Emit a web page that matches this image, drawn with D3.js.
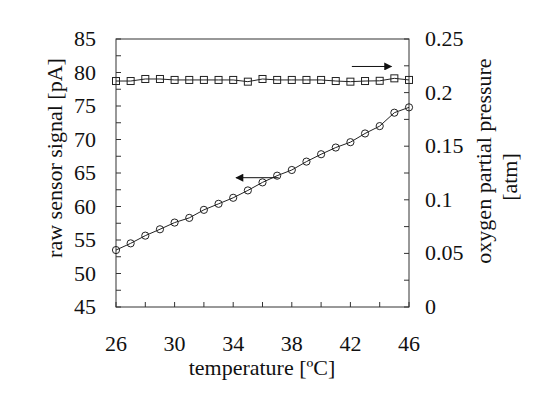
<!DOCTYPE html>
<html><head><meta charset="utf-8">
<script src="https://cdn.jsdelivr.net/npm/d3@7"></script>
<style>body{margin:0;background:#fff}</style>
</head><body>
<script>
const temperature = [26,27,28,29,30,31,32,33,34,35,36,37,38,39,40,41,42,43,44,45,46];
const signalPA = [53.5,54.5,55.65,56.6,57.6,58.3,59.5,60.4,61.3,62.4,63.6,64.6,65.45,66.7,67.8,68.8,69.6,70.9,72.0,74.0,74.8];
const oxygenAtm = [0.2108,0.2108,0.2127,0.2127,0.2118,0.2118,0.2118,0.2118,0.2118,0.2102,0.2127,0.2118,0.2118,0.2118,0.2118,0.2108,0.2102,0.2108,0.211,0.2133,0.2118];
const xTickLabels = [26,30,34,38,42,46];
const yLeftTickLabels = [45,50,55,60,65,70,75,80,85];
const yRightTickLabels = [0,0.05,0.1,0.15,0.2,0.25];

const W=546,H=395;
const m={l:116,r:409,t:39,b:307};
const FF='"Liberation Serif", "Times New Roman", serif';
const svg=d3.select("body").append("svg").attr("width",W).attr("height",H);
const x=d3.scaleLinear().domain([26,46]).range([m.l,m.r]);
const yL=d3.scaleLinear().domain([45,85]).range([m.b,m.t]);
const yR=d3.scaleLinear().domain([0,0.25]).range([m.b,m.t]);
const fs=22, stroke="#333", tc="#111";
function txt(sel){return sel.style("font-family",FF).attr("font-size",fs).attr("fill",tc);}

svg.append("rect").attr("x",m.l).attr("y",m.t).attr("width",m.r-m.l).attr("height",m.b-m.t)
  .attr("fill","none").attr("stroke",stroke).attr("stroke-width",1);

const tl=5;
d3.range(26,46.01,2).forEach(v=>{svg.append("line").attr("x1",x(v)).attr("x2",x(v)).attr("y1",m.b).attr("y2",m.b-tl).attr("stroke",stroke);});
d3.range(45,85.01,2.5).forEach(v=>{svg.append("line").attr("x1",m.l).attr("x2",m.l+tl).attr("y1",yL(v)).attr("y2",yL(v)).attr("stroke",stroke);});
d3.range(0,0.2501,0.025).forEach(v=>{svg.append("line").attr("x1",m.r).attr("x2",m.r-tl).attr("y1",yR(v)).attr("y2",yR(v)).attr("stroke",stroke);});

txt(svg.selectAll(".xl").data(xTickLabels).enter().append("text").attr("x",d=>x(d)).attr("y",351)
  .attr("text-anchor","middle")).text(d=>d);
txt(svg.selectAll(".yl").data(yLeftTickLabels).enter().append("text").attr("x",96).attr("y",d=>yL(d)+7)
  .attr("text-anchor","end")).text(d=>d);
txt(svg.selectAll(".yr").data(yRightTickLabels).enter().append("text").attr("x",425).attr("y",d=>yR(d)+7)
  .attr("text-anchor","start")).text(d=>d);

txt(svg.append("text").attr("x",262).attr("y",375).attr("text-anchor","middle")).text("temperature [ºC]");
txt(svg.append("text").attr("transform","translate(62,158) rotate(-90)").attr("text-anchor","middle")).text("raw sensor signal [pA]");
txt(svg.append("text").attr("transform","translate(491,161) rotate(-90)").attr("text-anchor","middle")).text("oxygen partial pressure");
txt(svg.append("text").attr("transform","translate(517,177) rotate(-90)").attr("text-anchor","middle")).text("[atm]");

const lineL=d3.line().x((d,i)=>x(temperature[i])).y(d=>yL(d));
const lineR=d3.line().x((d,i)=>x(temperature[i])).y(d=>yR(d));
svg.append("path").attr("d",lineL(signalPA)).attr("fill","none").attr("stroke","#222").attr("stroke-width",1);
svg.append("path").attr("d",lineR(oxygenAtm)).attr("fill","none").attr("stroke","#222").attr("stroke-width",1);
svg.selectAll(".c").data(signalPA).enter().append("circle").attr("cx",(d,i)=>x(temperature[i])).attr("cy",d=>yL(d))
  .attr("r",3.6).attr("fill","none").attr("stroke","#222").attr("stroke-width",1);
svg.selectAll(".s").data(oxygenAtm).enter().append("rect").attr("x",(d,i)=>x(temperature[i])-3.5).attr("y",d=>yR(d)-3.5)
  .attr("width",7).attr("height",7).attr("fill","none").attr("stroke","#222").attr("stroke-width",1);

const defs=svg.append("defs");
defs.append("marker").attr("id","ah").attr("viewBox","0 0 10 10").attr("refX",9).attr("refY",5)
  .attr("markerWidth",10).attr("markerHeight",8).attr("markerUnits","userSpaceOnUse").attr("orient","auto")
  .append("path").attr("d","M0,0L10,5L0,10Z").attr("fill","#111");
svg.append("line").attr("x1",x(42.1)).attr("x2",x(44.8)).attr("y1",yL(80.9)).attr("y2",yL(80.9))
  .attr("stroke","#111").attr("marker-end","url(#ah)");
svg.append("line").attr("x1",x(37.1)).attr("x2",x(34.2)).attr("y1",yL(64.3)).attr("y2",yL(64.3))
  .attr("stroke","#111").attr("marker-end","url(#ah)");
</script>
</body></html>
